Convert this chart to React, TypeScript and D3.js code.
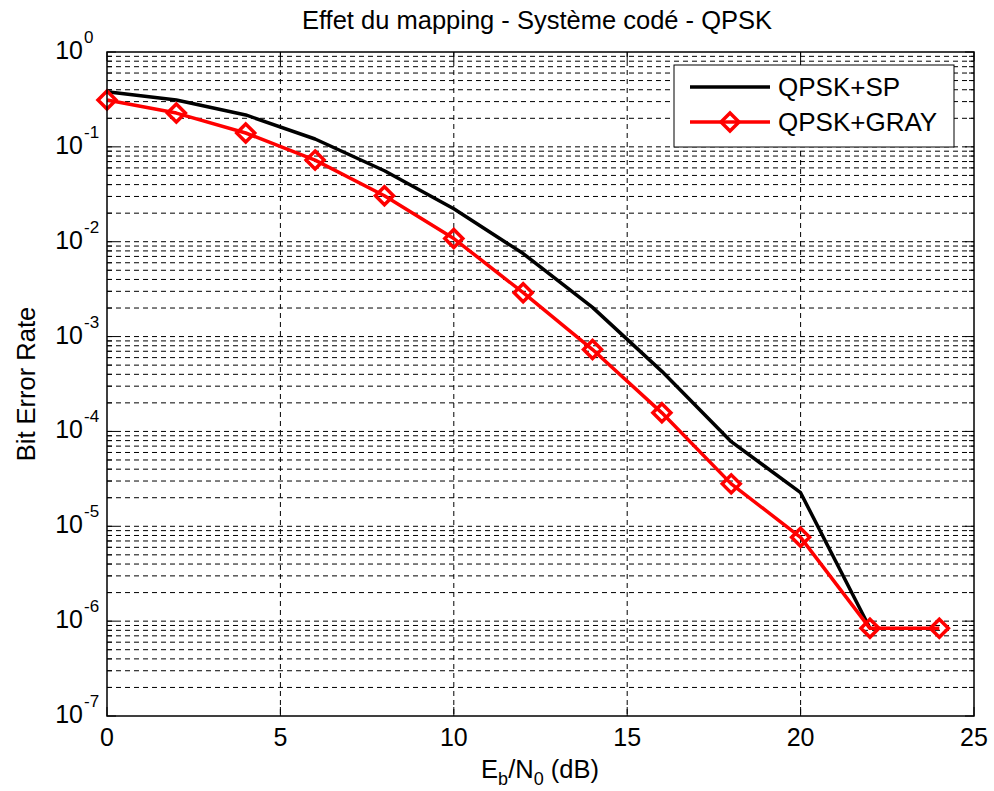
import React from "react";
import * as d3 from "d3";

const ebn0SP = [0, 2, 4, 6, 8, 10, 12, 14, 16, 18, 20, 22];
const berSP = [0.38, 0.312, 0.217, 0.121, 0.056, 0.0223, 0.0075, 0.00203, 4.3e-4, 7.8e-5, 2.26e-5, 8.4e-7];
const ebn0Gray = [0, 2, 4, 6, 8, 10, 12, 14, 16, 18, 20, 22, 24];
const berGray = [0.312, 0.227, 0.14, 0.0725, 0.0305, 0.0108, 0.0029, 7.3e-4, 1.57e-4, 2.8e-5, 7.65e-6, 8.4e-7, 8.4e-7];
const xTicks = [0, 5, 10, 15, 20, 25];
const yExponents = [0, -1, -2, -3, -4, -5, -6, -7];
const titleText = "Effet du mapping - Système codé - QPSK";
const seriesNames = ["QPSK+SP", "QPSK+GRAY"];

const W = 994, H = 791;
const L = 107, R = 974, T = 52, B = 716;
const FONT = "'Liberation Sans', Arial, Helvetica, sans-serif";

export default function App() {
  const x = d3.scaleLinear().domain([0, 25]).range([L, R]);
  const y = d3.scaleLog().domain([1e-7, 1]).range([B, T]);
  const line = d3.line<[number, number]>().x(d => x(d[0])).y(d => y(d[1]));
  const sp: [number, number][] = ebn0SP.map((v, i) => [v, berSP[i]]);
  const gr: [number, number][] = ebn0Gray.map((v, i) => [v, berGray[i]]);

  const minor: number[] = [];
  for (let e = -7; e < 0; e++) for (let m = 2; m <= 9; m++) minor.push(m * Math.pow(10, e));

  const dash = "5,4";
  const diamond = (cx: number, cy: number, k: string) => (
    <path key={k} d={`M${cx},${cy - 9}L${cx + 9},${cy}L${cx},${cy + 9}L${cx - 9},${cy}Z`} fill="none" stroke="#ff0000" strokeWidth={3.5} />
  );

  return (
    <svg width={W} height={H} style={{ display: "block", position: "absolute", left: 0, top: 0, background: "#fff" }} fontFamily={FONT}>
      <rect x={0} y={0} width={W} height={H} fill="#fff" />
      <rect x={L} y={T} width={R - L} height={B - T} fill="#fff" />
      {/* grid */}
      {xTicks.slice(1, -1).map(t => (
        <line key={"gx" + t} x1={x(t)} x2={x(t)} y1={T} y2={B} stroke="#000" strokeWidth={1} strokeDasharray={dash} />
      ))}
      {yExponents.slice(1, -1).map(e => (
        <line key={"gy" + e} x1={L} x2={R} y1={y(Math.pow(10, e))} y2={y(Math.pow(10, e))} stroke="#000" strokeWidth={1} strokeDasharray={dash} />
      ))}
      {minor.map((v, i) => (
        <line key={"gm" + i} x1={L} x2={R} y1={y(v)} y2={y(v)} stroke="#000" strokeWidth={1} strokeDasharray={dash} />
      ))}
      {/* ticks */}
      {xTicks.map(t => (
        <g key={"tx" + t}>
          <line x1={x(t)} x2={x(t)} y1={B} y2={B - 9} stroke="#000" />
          <line x1={x(t)} x2={x(t)} y1={T} y2={T + 9} stroke="#000" />
          <text x={x(t)} y={746} textAnchor="middle" fontSize={25} fill="#000">{t}</text>
        </g>
      ))}
      {yExponents.map(e => (
        <g key={"ty" + e}>
          <line x1={L} x2={L + 9} y1={y(Math.pow(10, e))} y2={y(Math.pow(10, e))} stroke="#000" />
          <line x1={R} x2={R - 9} y1={y(Math.pow(10, e))} y2={y(Math.pow(10, e))} stroke="#000" />
          <text x={83} y={y(Math.pow(10, e)) + 7} textAnchor="end" fontSize={25} fill="#000">10</text>
          <text x={84} y={y(Math.pow(10, e)) - 9} textAnchor="start" fontSize={17} fill="#000">{e}</text>
        </g>
      ))}
      {minor.map((v, i) => (
        <g key={"tm" + i}>
          <line x1={L} x2={L + 5} y1={y(v)} y2={y(v)} stroke="#000" />
          <line x1={R} x2={R - 5} y1={y(v)} y2={y(v)} stroke="#000" />
        </g>
      ))}
      {/* data */}
      <path d={line(sp) || ""} fill="none" stroke="#000" strokeWidth={3.5} strokeLinejoin="round" />
      <path d={line(gr) || ""} fill="none" stroke="#ff0000" strokeWidth={3.5} strokeLinejoin="round" />
      {gr.map((d, i) => diamond(x(d[0]), y(d[1]), "m" + i))}
      {/* frame */}
      <rect x={L} y={T} width={R - L} height={B - T} fill="none" stroke="#000" strokeWidth={1.5} />
      {/* legend */}
      <rect x={674} y={65} width={280} height={82} fill="#fff" stroke="#000" strokeWidth={1} />
      <line x1={690} x2={770} y1={87} y2={87} stroke="#000" strokeWidth={3.5} />
      <line x1={690} x2={770} y1={122} y2={122} stroke="#ff0000" strokeWidth={3.5} />
      {diamond(730, 122, "lg")}
      <text x={778} y={96} fontSize={26} fill="#000">{seriesNames[0]}</text>
      <text x={778} y={131} fontSize={26} fill="#000">{seriesNames[1]}</text>
      {/* titles */}
      <text x={537} y={29} textAnchor="middle" fontSize={25.5} fill="#000">{titleText}</text>
      <text x={540} y={778} textAnchor="middle" fontSize={25.5} fill="#000">
        E<tspan fontSize={18} dy={7}>b</tspan><tspan dy={-7}>/N</tspan><tspan fontSize={18} dy={7}>0</tspan><tspan dy={-7}> (dB)</tspan>
      </text>
      <text transform={`translate(35,${(T + B) / 2}) rotate(-90)`} textAnchor="middle" fontSize={25.5} fill="#000">Bit Error Rate</text>
    </svg>
  );
}
